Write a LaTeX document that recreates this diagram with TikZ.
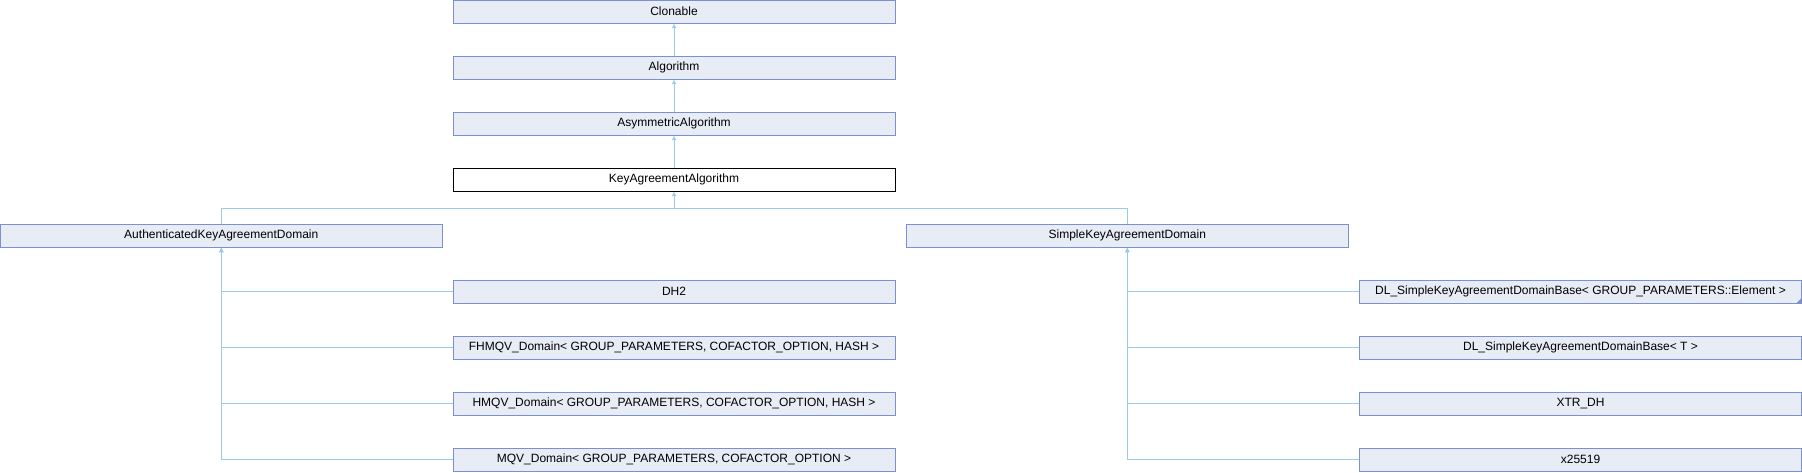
\documentclass[tikz,border=0pt]{standalone}
\usepackage{fontspec}
\setmainfont{Liberation Sans}
\usepackage{tikz}
\usetikzlibrary{arrows.meta}
\usepackage{xcolor}
\definecolor{myfill}{HTML}{E8ECF4}
\definecolor{myborder}{HTML}{7B91C9}
\definecolor{myline}{HTML}{9CCBEA}
\tikzset{
  >=latex,
  box/.style={draw=myborder,fill=myfill,line width=1pt,minimum width=442pt,minimum height=23pt,
              inner sep=0,font=\fontsize{12}{14}\selectfont},
  box current/.style={box,draw=black,fill=white},
  connect/.style={line width=1pt,myline},
  connect arrow/.style={-{Latex[length=4.5,width=4.5]},line width=1pt,myline}
}
\begin{document}
\begin{tikzpicture}[x=1pt,y=-1pt]
  \useasboundingbox (0,0) rectangle (1802,472);
  % base classes
  \foreach \n/\t [count=\i from 0] in {clon/Clonable,algo/Algorithm,asym/AsymmetricAlgorithm}{%
    \node[box] (\n) at (674,11.5+56*\i) {\t};
  }
  \node[box current] (kaa) at (674,179.5) {KeyAgreementAlgorithm};
  \draw[connect arrow] (algo) -- (clon);
  \draw[connect arrow] (asym) -- (algo);
  \draw[connect arrow] (kaa) -- (asym);
  % two domains
  \node[box] (akad) at (221.3,235.5) {AuthenticatedKeyAgreementDomain};
  \node[box] (skad) at (1127.3,235.5) {SimpleKeyAgreementDomain};
  \coordinate (bus) at (674,208.3);
  \draw[connect arrow] (bus) -- (kaa);
  \draw[connect] (akad.north) |- (bus) -| (skad.north);
  % authenticated children
  \foreach \n/\t [count=\i from 0] in {dh2/DH2,
      fhmqv/{FHMQV\_Domain< GROUP\_PARAMETERS, COFACTOR\_OPTION, HASH >},
      hmqv/{HMQV\_Domain< GROUP\_PARAMETERS, COFACTOR\_OPTION, HASH >},
      mqv/{MQV\_Domain< GROUP\_PARAMETERS, COFACTOR\_OPTION >}}{%
    \node[box] (\n) at (674,291.5+56*\i) {\t};
    \draw[connect arrow] (\n.west) -| (akad.south);
  }
  % simple children
  \foreach \n/\t [count=\i from 0] in {dlelem/{DL\_SimpleKeyAgreementDomainBase< GROUP\_PARAMETERS::Element >},
      dlt/{DL\_SimpleKeyAgreementDomainBase< T >},
      xtr/XTR\_DH,
      x255/x25519}{%
    \node[box] (\n) at (1580.5,291.5+56*\i) {\t};
    \draw[connect arrow] (\n.west) -| (skad.south);
  }
  % corner mark
  \fill[myborder] (dlelem.south east) -- ++(-6,0) -- ++(6,-6) -- cycle;
\end{tikzpicture}
\end{document}
